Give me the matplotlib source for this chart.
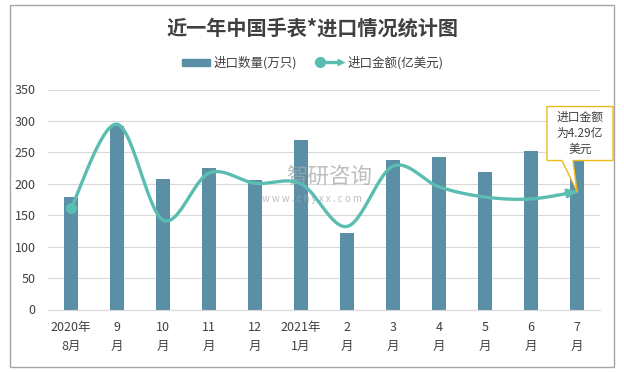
import numpy as np
import matplotlib
matplotlib.use("Agg")
import matplotlib.pyplot as plt
from matplotlib.lines import Line2D
from matplotlib.patches import Patch, Polygon, Rectangle
from matplotlib.legend_handler import HandlerBase
from matplotlib.transforms import Affine2D

plt.rcParams['font.family'] = ['Noto Sans CJK SC', 'DejaVu Sans']

# data
months = ["2020年\n8月", "9\n月", "10\n月", "11\n月", "12\n月", "2021年\n1月",
          "2\n月", "3\n月", "4\n月", "5\n月", "6\n月", "7\n月"]
qty = [179, 292, 208, 225, 206, 270, 122, 238, 243, 219, 252, 240]        # 万只
amount = [3.68, 6.74, 3.25, 4.96, 4.59, 4.57, 3.02, 5.21, 4.46, 4.09, 4.02, 4.29]  # 亿美元

bar_c = '#5b8fa6'
line_c = '#5bbdb2'
txt_c = '#404040'

fig = plt.figure(figsize=(6.24, 3.72), dpi=100)
ax = fig.add_axes([48/624, 1-309.5/372, 552/624, 220/372])
x = np.arange(len(months))

ax.bar(x, qty, width=0.3, color=bar_c, zorder=2)
ax.set_xlim(-0.5, len(months)-0.5)
ax.set_ylim(0, 350)
ax.set_yticks(range(0, 351, 50))
ax.grid(axis='y', color='#d9d9d9', lw=0.8, zorder=0)
for s in ['top', 'right', 'left']:
    ax.spines[s].set_visible(False)
ax.spines['bottom'].set_color('#d9d9d9')
ax.tick_params(length=0, colors=txt_c, labelsize=9)
ax.tick_params(axis='y', pad=9)
ax.tick_params(axis='x', pad=8)
ax.set_xticks(x)
ax.set_xticklabels(months, linespacing=1.6)

# watermark
ax.text(329/624, 1-177/372, "智研咨询", transform=fig.transFigure, ha='center', va='center',
        fontsize=15.5, color='#a8a8a8', alpha=0.75, zorder=3)
ax.text(312/624, 1-199/372, "w w w . c h y x x . c o m", transform=fig.transFigure,
        ha='center', va='center', fontsize=7, color='#a8a8a8', alpha=0.75, zorder=3)

# line on hidden secondary axis, smoothed with bezier segments
ax2 = ax.twinx()
ax2.set_ylim(0, 8)
ax2.axis('off')
pts = np.column_stack([x, amount]).astype(float)
n = len(pts)
curve = []
t = np.linspace(0, 1, 30)[:, None]
for i in range(n-1):
    p0 = pts[i]
    p3 = pts[i+1]
    p1 = p0 + (pts[i+1] - pts[max(i-1, 0)]) / 6
    p2 = p3 - (pts[min(i+2, n-1)] - pts[i]) / 6
    seg = (1-t)**3*p0 + 3*(1-t)**2*t*p1 + 3*(1-t)*t**2*p2 + t**3*p3
    curve.append(seg if i == 0 else seg[1:])
curve = np.vstack(curve)
ax2.plot(curve[:, 0], curve[:, 1], color=line_c, lw=2.4, solid_capstyle='round', zorder=4)
ax2.plot(pts[0, 0], pts[0, 1], 'o', ms=7, color=line_c, zorder=4)
ax2.annotate('', xy=pts[-1], xytext=curve[-6],
             arrowprops=dict(arrowstyle='-|>', color=line_c, lw=2.4, mutation_scale=12,
                             shrinkA=0, shrinkB=0), zorder=4)

# callout
fig.canvas.draw()
tip = ax2.transData.transform(pts[-1])
verts = [(-30, 31), (-15, 31), (0, 0), (-4, 31), (36, 31), (36, 85), (-30, 85)]
poly = Polygon(verts, closed=True, fc='white', ec='#f0b91a', lw=1,
               transform=Affine2D().translate(*tip), clip_on=False, zorder=6)
ax2.add_artist(poly)
ax2.annotate("进口金额\n为%.2f亿\n美元" % amount[-1], xy=pts[-1], xytext=(3, 58),
             textcoords='offset pixels', ha='center', va='center', fontsize=8.5,
             color=txt_c, linespacing=1.3, zorder=7, annotation_clip=False)

# legend
class LineArrowHandler(HandlerBase):
    def create_artists(self, legend, orig_handle, xdescent, ydescent, width, height, fontsize, trans):
        y = height/2 - ydescent
        x0, x1 = -xdescent, width - xdescent
        line = Line2D([x0, x1 - 3], [y, y], color=line_c, lw=2.4, transform=trans)
        dot = Line2D([x0 + 3], [y], marker='o', ms=7, color=line_c, transform=trans)
        head = Line2D([x1 - 2], [y], marker='>', ms=6, color=line_c, mec='none', transform=trans)
        return [line, dot, head]

h_bar = Patch(color=bar_c)
h_line = Line2D([], [])
fig.legend([h_bar, h_line], ["进口数量(万只)", "进口金额(亿美元)"],
           handler_map={Line2D: LineArrowHandler()},
           loc='center', bbox_to_anchor=(313/624, 1-63/372), ncol=2, frameon=False,
           fontsize=9, handlelength=2.2, handleheight=0.55, handletextpad=0.35,
           columnspacing=1.5, labelcolor=txt_c)

fig.text(0.5, 1-28/372, "近一年中国手表*进口情况统计图", ha='center', va='center',
         fontsize=14.5, fontweight='bold', color=txt_c)

fig.patches.append(Rectangle((10/624, 1-367/372), 604/624, 362/372, transform=fig.transFigure,
                             fill=False, ec='#a6a6a6', lw=1, figure=fig))

fig.savefig('out.png', dpi=100)
